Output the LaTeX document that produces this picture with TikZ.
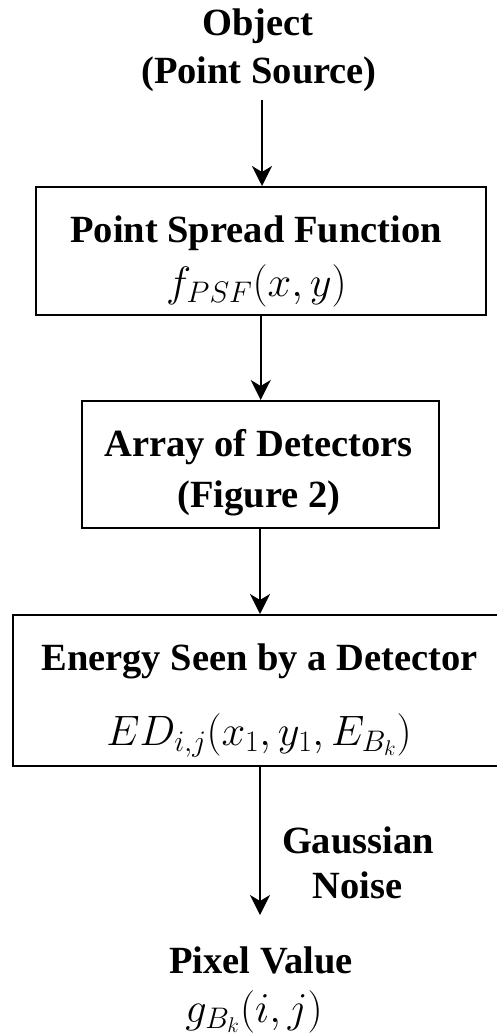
\RequirePackage{fix-cm}
\documentclass[tikz,border=0pt]{standalone}
\usepackage[no-math]{fontspec}
\setmainfont{Liberation Serif}[BoldFont={Liberation Serif Bold}]
\usetikzlibrary{arrows.meta}
\tikzset{
  txt/.style={anchor=base, inner sep=0pt, font=\fontsize{38.5}{46}\selectfont\bfseries},
  mth/.style={anchor=base, inner sep=0pt, font=\fontsize{42.5}{50}\selectfont},
  stepbox/.style={draw, line width=2pt, inner sep=0pt},
  flow/.style={line width=2pt, -{Stealth[length=20pt,width=20pt,inset=6pt]}}
}
\begin{document}
\begin{tikzpicture}[x=1pt,y=-1pt]
\useasboundingbox (0,0) rectangle (497,1035);
% texts
\node[txt] (obj1) at (258,36) {Object};
\node[txt] (obj2) at (259,84) {(Point Source)};
\coordinate (objbot) at (262,100);
% box 1
\node[stepbox, minimum width=450pt, minimum height=128pt] (b1) at (261,251) {};
\node[txt] (psf) at (256,242) {Point Spread Function};
\node[mth] (fpsf) at (256.5,296) {$f_{PSF}(x,y)$};
% box 2
\node[stepbox, minimum width=357pt, minimum height=127pt] (b2) at (260.5,464.5) {};
\node[txt] (arr) at (258.5,456) {Array of Detectors};
\node[txt] (fig) at (259,507) {(Figure 2)};
% box 3
\node[stepbox, minimum width=494pt, minimum height=151pt] (b3) at (260,690.5) {};
\node[txt] (eng) at (259.5,670) {Energy Seen by a Detector};
\node[mth] (ed) at (259,745) {$ED_{i,j}(x_1,y_1,E_{B_k})$};
% output
\coordinate (outtop) at (260,915);
\node[txt] (gau) at (358,853) {Gaussian};
\node[txt] (noi) at (357.5,898) {Noise};
\node[txt] (pix) at (261,973) {Pixel Value};
\node[mth] (gb) at (254,1022) {$g_{B_k}(i,j)$};
% connectors
\draw[flow] (objbot) -- (objbot |- b1.north);
\draw[flow] ([xshift=-0.3pt]b1.south) -- ([xshift=-0.3pt]b1.south |- b2.north);
\draw[flow] ([xshift=-0.5pt]b2.south) -- ([xshift=-0.5pt]b2.south |- b3.north);
\draw[flow] (b3.south) -- (outtop);
\end{tikzpicture}
\end{document}
